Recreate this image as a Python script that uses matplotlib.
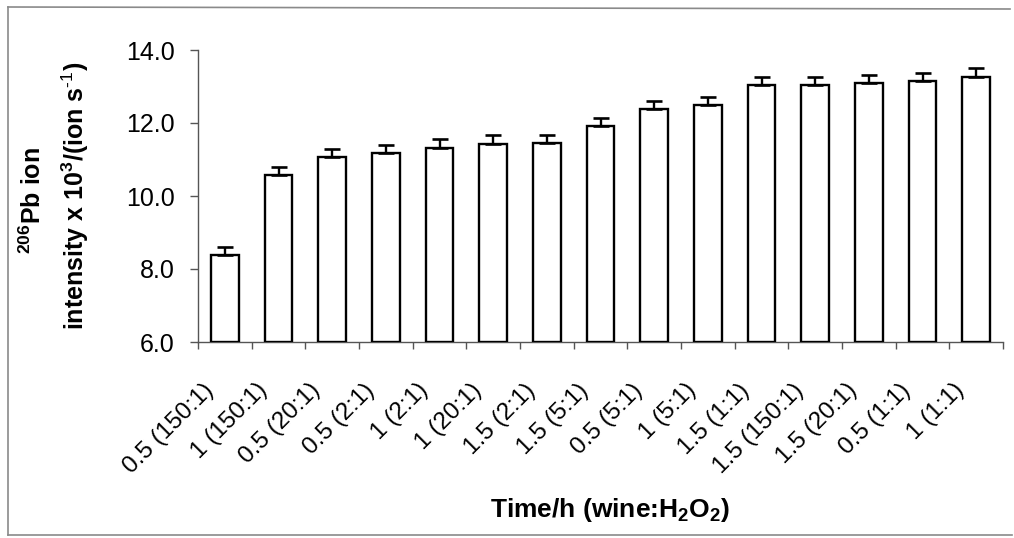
import matplotlib
matplotlib.use("Agg")
import matplotlib.pyplot as plt
from matplotlib.lines import Line2D
from matplotlib.transforms import ScaledTranslation
import numpy as np

# Time/h (wine:H2O2) treatments, ordered by signal
categories = ["0.5 (150:1)", "1 (150:1)", "0.5 (20:1)", "0.5 (2:1)", "1 (2:1)",
              "1 (20:1)", "1.5 (2:1)", "1.5 (5:1)", "0.5 (5:1)", "1 (5:1)",
              "1.5 (1:1)", "1.5 (150:1)", "1.5 (20:1)", "0.5 (1:1)", "1 (1:1)"]
# 206Pb ion intensity x 10^3 / (ion s^-1)
intensity = [8.37, 10.58, 11.07, 11.17, 11.32, 11.43, 11.46, 11.92, 12.37, 12.48,
             13.04, 13.03, 13.09, 13.14, 13.27]
# standard deviation (upper error bar)
std_dev = [0.22, 0.22, 0.22, 0.23, 0.23, 0.23, 0.22, 0.22, 0.22, 0.23,
           0.22, 0.22, 0.22, 0.23, 0.24]
y_ticks = [6.0, 8.0, 10.0, 12.0, 14.0]

plt.rcParams['font.family'] = ['Liberation Sans', 'DejaVu Sans']
plt.rcParams['mathtext.fontset'] = 'custom'
plt.rcParams['mathtext.rm'] = 'Liberation Sans'
plt.rcParams['mathtext.bf'] = 'Liberation Sans:bold'

W, H = 1014, 538
fig = plt.figure(figsize=(W / 100, H / 100), dpi=100)
ax = fig.add_axes([198 / W, 1 - 342 / H, (1003 - 198) / W, (342 - 50) / H])

x = np.arange(len(categories))
base = 6.0
heights = [v - base for v in intensity]
ax.bar(x, heights, bottom=base, width=0.52, color="white", edgecolor="black",
       linewidth=1.7, zorder=3)
ax.errorbar(x, intensity, yerr=[np.zeros(len(std_dev)), std_dev], fmt="none",
            ecolor="black", elinewidth=1.7, capsize=6, capthick=1.9, zorder=4)

ax.set_xlim(-0.5, len(categories) - 0.5)
ax.set_ylim(6.0, 14.0)

# y axis
ax.set_yticks(y_ticks)
ax.set_yticklabels([f"{v:.1f}" for v in y_ticks])
ax.tick_params(axis="y", direction="out", length=6, width=1.0, color="#555555",
               pad=11, labelsize=18)

# x axis: tick marks between categories, labels at category centres
ax.set_xticks(np.arange(len(categories) + 1) - 0.5)
ax.set_xticklabels([])
ax.set_xticks(x, minor=True)
ax.set_xticklabels(categories, minor=True, rotation=45, ha="right", va="center",
                   rotation_mode="anchor", fontsize=17.5)
ax.tick_params(axis="x", which="major", direction="out", length=5, width=1.0,
               color="#555555")
ax.tick_params(axis="x", which="minor", length=0, pad=0)
offset = ScaledTranslation(-15 / 100, -45 / 100, fig.dpi_scale_trans)
for lbl in ax.get_xticklabels(minor=True):
    lbl.set_transform(lbl.get_transform() + offset)

for side in ("top", "right"):
    ax.spines[side].set_visible(False)
for side in ("left", "bottom"):
    ax.spines[side].set_color("#555555")
    ax.spines[side].set_linewidth(1.0)

# axis titles
fig.text(33 / W, 1 - 200 / H, r"$\mathbf{^{206}}$Pb ion", rotation=90,
         ha="center", va="center", fontsize=18, fontweight="bold")
fig.text(75 / W, 1 - 196 / H,
         r"intensity x 10$\mathbf{^{3}}$/(ion s$\mathbf{^{\text{-1}}}$)",
         rotation=90, ha="center", va="center", fontsize=18, fontweight="bold")
fig.text(610 / W, 1 - 510 / H, r"Time/h (wine:H$\mathbf{_{2}}$O$\mathbf{_{2}}$)",
         ha="center", va="center", fontsize=19, fontweight="bold")

# chart area border
border_kw = dict(transform=fig.transFigure, color="#8a8a8a", linewidth=1.2)
fig.add_artist(Line2D([8 / W, 8 / W], [1 - 7 / H, 1 - 535 / H], **border_kw))
fig.add_artist(Line2D([8 / W, 1010 / W], [1 - 7 / H, 1 - 9 / H], **border_kw))
fig.add_artist(Line2D([8 / W, 1012 / W], [1 - 535 / H, 1 - 535 / H], **border_kw))

fig.savefig("out.png", dpi=100, facecolor="white")
